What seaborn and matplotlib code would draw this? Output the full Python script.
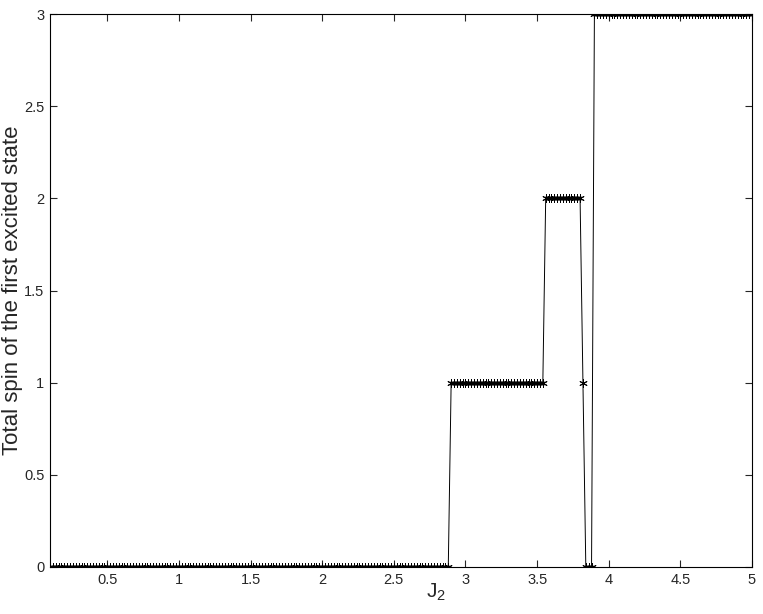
import numpy as np
import pandas as pd
import matplotlib
matplotlib.use("Agg")
import matplotlib.pyplot as plt
import seaborn as sns

# J2 grid (step 0.02 from 0.1 to 5.0)
j2_start, j2_stop, j2_step = 0.1, 5.0, 0.02
# total spin of first excited state, as run-lengths along the grid
spin_levels = [0, 1, 2, 1, 0, 3]
spin_counts = [140, 33, 13, 1, 3, 56]

j2 = np.round(np.arange(j2_start, j2_stop + j2_step / 2, j2_step), 2)
spin = np.repeat(spin_levels, spin_counts)
df = pd.DataFrame({"J2": j2, "spin": spin})

sns.set_style("ticks")
plt.rcParams["font.family"] = ["Liberation Sans", "DejaVu Sans"]
plt.rcParams["mathtext.fontset"] = "custom"
plt.rcParams["mathtext.rm"] = "Liberation Sans"
plt.rcParams["mathtext.it"] = "Liberation Sans"

fig = plt.figure(figsize=(7.63, 6.14), dpi=100)
ax = fig.add_axes([50 / 763, 1 - 567 / 614, 702 / 763, 553 / 614])

# matlab-style asterisk markers
sns.lineplot(data=df, x="J2", y="spin", ax=ax, color="black", linewidth=0.7,
             marker=(6, 2, 0), markersize=6, markeredgewidth=0.7,
             markeredgecolor="black", estimator=None)

ax.set_xlim(0.1, 5)
ax.set_ylim(0, 3)
ax.set_xticks([0.5, 1, 1.5, 2, 2.5, 3, 3.5, 4, 4.5, 5])
ax.set_xticklabels(["0.5", "1", "1.5", "2", "2.5", "3", "3.5", "4", "4.5", "5"])
ax.set_yticks([0, 0.5, 1, 1.5, 2, 2.5, 3])
ax.set_yticklabels(["0", "0.5", "1", "1.5", "2", "2.5", "3"])
ax.tick_params(direction="in", length=5, width=0.8, labelsize=10.5, top=True, right=True, pad=4)
for s in ax.spines.values():
    s.set_color("black")
    s.set_linewidth(0.8)

ax.set_xlabel("J$_2$", fontsize=15)
ax.xaxis.set_label_coords(0.55, -0.027, transform=ax.transAxes)
ax.xaxis.label.set_va("top")
ax.set_ylabel("Total spin of the first excited state", fontsize=16, labelpad=1)

fig.savefig("out.png", dpi=100)
